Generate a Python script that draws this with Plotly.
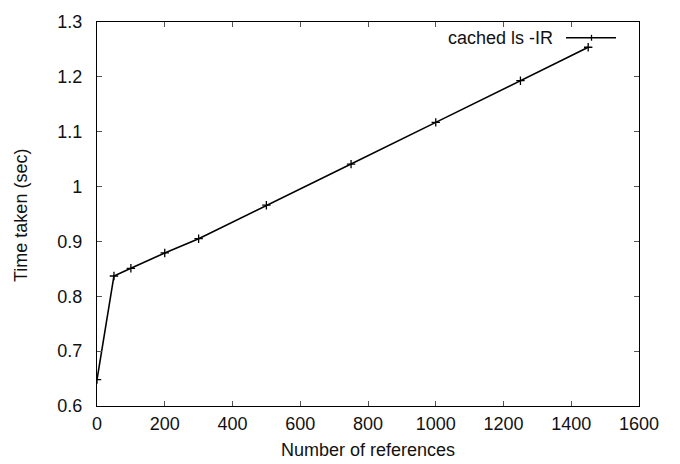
import plotly.graph_objects as go

refs = [0, 50, 100, 200, 300, 500, 750, 1000, 1250, 1450]
times = [0.648, 0.837, 0.851, 0.879, 0.905, 0.966, 1.041, 1.117, 1.193, 1.254]
series_name = "cached ls -IR"

x_ticks = [0, 200, 400, 600, 800, 1000, 1200, 1400, 1600]
x_ticklabels = ["0", "200", "400", "600", "800", "1000", "1200", "1400", "1600"]
y_ticks = [0.6, 0.7, 0.8, 0.9, 1.0, 1.1, 1.2, 1.3]
y_ticklabels = ["0.6", "0.7", "0.8", "0.9", "1", "1.1", "1.2", "1.3"]

font = dict(family="Liberation Sans, Arial, sans-serif", size=18, color="#111")

# plot area in pixels (reference): x 97..639, y 16..406
L, R, T, B = 97, 639, 16, 406
PW, PH = R - L, B - T

fig = go.Figure()
fig.add_trace(go.Scatter(
    x=refs, y=times, mode="lines+markers", name=series_name,
    line=dict(color="black", width=1.6),
    marker=dict(symbol="cross-thin", size=6, line=dict(color="black", width=1.3)),
    showlegend=False,
))

axis_common = dict(
    showline=True, linecolor="black", linewidth=1.2, mirror="allticks",
    ticks="inside", ticklen=5, tickwidth=1, tickcolor="#555",
    showgrid=False, zeroline=False, tickfont=font,
)

fig.update_layout(
    width=680, height=464,
    margin=dict(l=L, r=680 - R, t=T, b=464 - B),
    paper_bgcolor="white", plot_bgcolor="white",
    font=font,
    xaxis=dict(range=[0, 1600], tickvals=x_ticks, ticktext=x_ticklabels,
               ticklabelstandoff=1, **axis_common),
    yaxis=dict(range=[0.6, 1.3], tickvals=y_ticks, ticktext=y_ticklabels,
               ticklabelstandoff=10, **axis_common),
)

# axis titles
fig.add_annotation(text="Number of references", xref="paper", yref="paper",
                   x=0.5, y=(B - 451) / PH, xanchor="center", yanchor="middle",
                   showarrow=False, font=font)
fig.add_annotation(text="Time taken (sec)", xref="paper", yref="paper",
                   x=(21 - L) / PW, y=(B - 213) / PH, xanchor="center", yanchor="middle",
                   textangle=-90, showarrow=False, font=font)

# gnuplot-style legend (text left of sample)
ly = (B - 32) / PH
fig.add_annotation(text=series_name, xref="paper", yref="paper",
                   x=(555 - L) / PW, y=ly, xanchor="right", yanchor="middle",
                   showarrow=False, font=font)
lx0, lx1, lxm = (566 - L) / PW, (616 - L) / PW, (591.5 - L) / PW
fig.add_shape(type="line", xref="paper", yref="paper", x0=lx0, x1=lx1, y0=ly, y1=ly,
              line=dict(color="black", width=1.6))
fig.add_shape(type="line", xref="paper", yref="paper", x0=lxm, x1=lxm,
              y0=ly - 3 / PH, y1=ly + 3 / PH, line=dict(color="black", width=1.3))

fig.write_html("out.html", config={"displayModeBar": False},
               post_script="document.body.style.margin='0';document.body.style.overflow='hidden';")
